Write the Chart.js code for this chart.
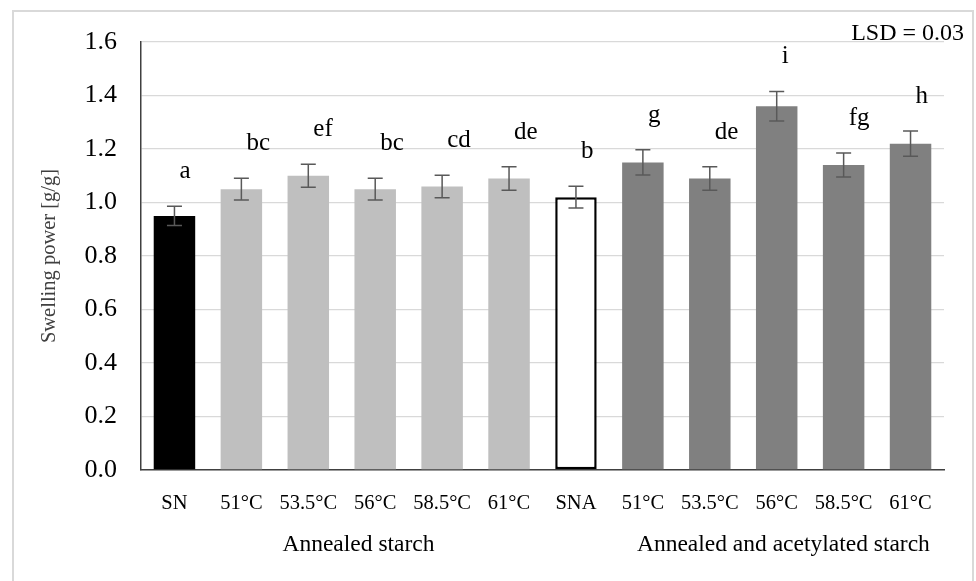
<!DOCTYPE html>
<html>
<head>
<meta charset="utf-8">
<script src="https://cdn.jsdelivr.net/npm/chart.js@4.4.1/dist/chart.umd.min.js"></script>
<style>
  html, body { margin: 0; padding: 0; background: #fff; }
  #wrap { width: 976px; height: 581px; }
</style>
</head>
<body>
<div id="wrap"><canvas id="swelling" width="976" height="581"></canvas></div>
<script>
// data
const categories = ['SN', '51°C', '53.5°C', '56°C', '58.5°C', '61°C', 'SNA', '51°C', '53.5°C', '56°C', '58.5°C', '61°C'];
const swelling = [0.95, 1.05, 1.10, 1.05, 1.06, 1.09, 1.02, 1.15, 1.09, 1.36, 1.14, 1.22];
const sdErr = [0.036, 0.041, 0.043, 0.041, 0.042, 0.044, 0.041, 0.047, 0.044, 0.055, 0.045, 0.047];
const letters = ['a', 'bc', 'ef', 'bc', 'cd', 'de', 'b', 'g', 'de', 'i', 'fg', 'h'];
const groupNames = ['Annealed starch', 'Annealed and acetylated starch'];
const groupCentres = [2.75, 9.1]; // category index under which each group label sits
const yTicks = [0, 0.2, 0.4, 0.6, 0.8, 1.0, 1.2, 1.4, 1.6];

const barColors = ['#000000', '#bfbfbf', '#bfbfbf', '#bfbfbf', '#bfbfbf', '#bfbfbf', '#ffffff',
  '#808080', '#808080', '#808080', '#808080', '#808080'];
const borderColors = barColors.map((c, i) => i === 6 ? '#000000' : c);
const borderWidths = barColors.map((c, i) => i === 6 ? 2.5 : 0);

const SERIF = '"Liberation Serif", "DejaVu Serif", serif';

// error bars, significance letters, axis title, group labels, frame
const extras = {
  id: 'extras',
  beforeDraw(chart) {
    const ctx = chart.ctx;
    ctx.save();
    ctx.fillStyle = '#fff';
    ctx.fillRect(0, 0, chart.width, chart.height);
    ctx.strokeStyle = '#d9d9d9';
    ctx.lineWidth = 2;
    ctx.strokeRect(13, 11, 960, 620);
    ctx.restore();
  },
  afterDatasetsDraw(chart) {
    const ctx = chart.ctx;
    const x = chart.scales.x;
    const y = chart.scales.y;
    const meta = chart.getDatasetMeta(0);
    ctx.save();
    ctx.strokeStyle = '#595959';
    ctx.lineWidth = 1.5;
    meta.data.forEach((bar, i) => {
      const top = y.getPixelForValue(swelling[i] + sdErr[i]);
      const bot = y.getPixelForValue(swelling[i] - sdErr[i]);
      ctx.beginPath();
      ctx.moveTo(bar.x, top); ctx.lineTo(bar.x, bot);
      ctx.moveTo(bar.x - 7.5, top); ctx.lineTo(bar.x + 7.5, top);
      ctx.moveTo(bar.x - 7.5, bot); ctx.lineTo(bar.x + 7.5, bot);
      ctx.stroke();

      ctx.fillStyle = '#000';
      ctx.font = '25px ' + SERIF;
      ctx.textAlign = 'left';
      ctx.textBaseline = 'alphabetic';
      ctx.fillText(letters[i], bar.x + 5, top - 28);
    });

    // LSD note
    ctx.font = '24px ' + SERIF;
    ctx.textAlign = 'right';
    ctx.fillText('LSD = 0.03', 964, 40);

    // group labels under the ticks
    ctx.textAlign = 'center';
    ctx.textBaseline = 'middle';
    ctx.font = '23.5px ' + SERIF;
    groupNames.forEach((g, k) => {
      ctx.fillText(g, x.getPixelForValue(groupCentres[k]), 545);
    });

    // y axis title
    ctx.translate(50, (y.top + y.bottom) / 2);
    ctx.rotate(-Math.PI / 2);
    ctx.fillStyle = '#404040';
    ctx.font = '20.5px ' + SERIF;
    ctx.fillText('Swelling power [g/g]', 0, 0);
    ctx.restore();
  }
};

new Chart(document.getElementById('swelling'), {
  type: 'bar',
  data: {
    labels: categories,
    datasets: [{
      label: 'Swelling power',
      data: swelling,
      backgroundColor: barColors,
      borderColor: borderColors,
      borderWidth: borderWidths,
      borderSkipped: false,
      barPercentage: 0.62,
      categoryPercentage: 1.0
    }]
  },
  options: {
    responsive: false,
    devicePixelRatio: 1,
    animation: false,
    layout: { padding: { top: 42, right: 32, left: 0, bottom: 0 } },
    plugins: {
      legend: { display: false },
      tooltip: { enabled: false }
    },
    scales: {
      x: {
        grid: { display: false, drawTicks: false },
        border: { display: true, color: '#404040', width: 1.5 },
        ticks: { color: '#000', font: { family: SERIF, size: 20.5 }, padding: 21, maxRotation: 0, autoSkip: false },
        afterFit(s) { s.height = 111; }
      },
      y: {
        min: 0,
        max: 1.6,
        afterBuildTicks(s) { s.ticks = yTicks.map(v => ({ value: v })); },
        grid: { color: '#d9d9d9', lineWidth: 1.3, drawTicks: false },
        border: { display: true, color: '#404040', width: 1.5 },
        ticks: {
          color: '#000',
          padding: 24,
          font: { family: SERIF, size: 26 },
          callback: v => Number(v).toFixed(1)
        },
        afterFit(s) { s.width = 141; }
      }
    }
  },
  plugins: [extras]
});
</script>
</body>
</html>
